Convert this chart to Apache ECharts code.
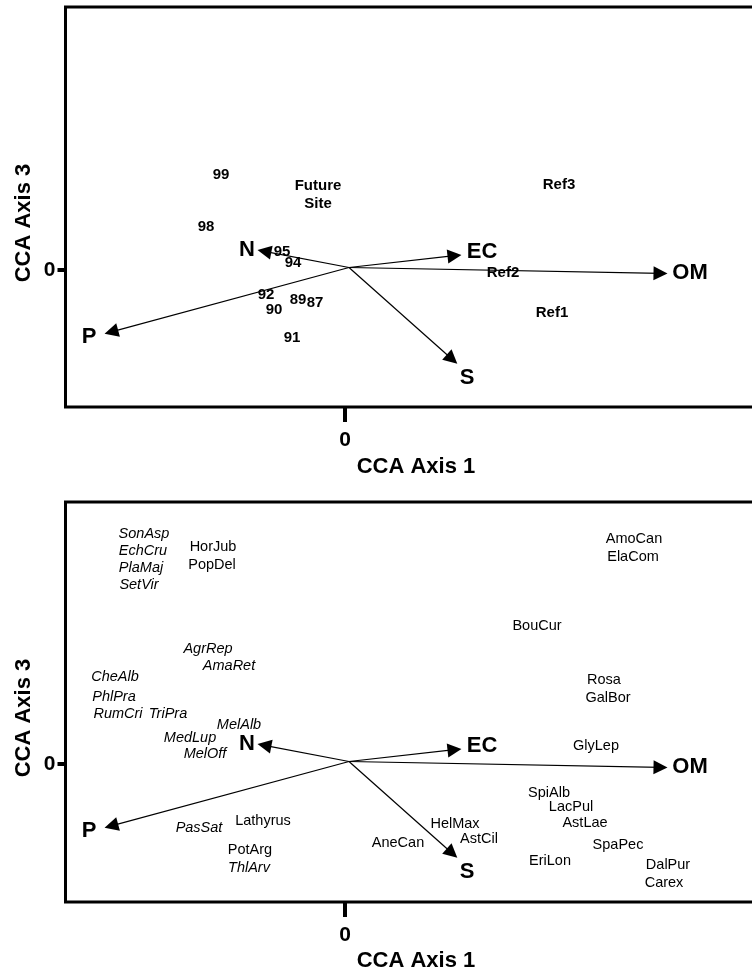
<!DOCTYPE html>
<html><head><meta charset="utf-8">
<script src="https://cdn.jsdelivr.net/npm/echarts@6/dist/echarts.min.js"></script>
<style>html,body{margin:0;padding:0;background:#fff}#c{width:752px;height:972px}</style>
</head><body><div id="c"></div>
<script>
// ---- environmental vectors (same in both panels); end = centre of the arrow head ----
const vectorNames = ['N', 'P', 'EC', 'OM', 'S'];
const vectorOrigin = [0.04, 0.025];
const vectorX = [-0.806, -2.337, 1.095, 3.155, 1.071];
const vectorY = [0.187, -0.618, 0.143, -0.034, -0.892];
const vectorLabelX = [-0.98, -2.56, 1.37, 3.45, 1.22];
const vectorLabelY = [0.205, -0.665, 0.18, -0.025, -1.075];

// ---- sites (top panel) ----
const siteNames = ['99', 'Future\nSite', '98', '95', '94', '92', '90', '89', '87', '91', 'Ref3', 'Ref2', 'Ref1'];
const siteX = [-1.24, -0.27, -1.39, -0.63, -0.52, -0.79, -0.71, -0.47, -0.30, -0.53, 2.14, 1.58, 2.07];
const siteY = [0.95, 0.75, 0.43, 0.18, 0.07, -0.25, -0.40, -0.30, -0.33, -0.68, 0.85, -0.03, -0.43];

// ---- species (bottom panel) ----
const speciesNames = ['SonAsp', 'EchCru', 'PlaMaj', 'SetVir', 'HorJub', 'PopDel', 'AgrRep', 'AmaRet', 'CheAlb', 'PhlPra',
  'RumCri', 'TriPra', 'MelAlb', 'MedLup', 'MelOff', 'PasSat', 'Lathyrus', 'PotArg', 'ThlArv',
  'AmoCan', 'ElaCom', 'BouCur', 'Rosa', 'GalBor', 'GlyLep', 'SpiAlb', 'LacPul', 'AstLae', 'HelMax', 'AstCil',
  'AneCan', 'SpaPec', 'EriLon', 'DalPur', 'Carex'];
const speciesX = [-2.01, -2.02, -2.04, -2.06, -1.32, -1.33, -1.37, -1.16, -2.30, -2.31,
  -2.27, -1.77, -1.06, -1.55, -1.40, -1.46, -0.82, -0.95, -0.96,
  2.89, 2.88, 1.92, 2.59, 2.63, 2.51, 2.04, 2.26, 2.40, 1.10, 1.34,
  0.53, 2.73, 2.05, 3.23, 3.19];
const speciesY = [2.30, 2.13, 1.96, 1.79, 2.17, 1.99, 1.15, 0.98, 0.87, 0.67,
  0.50, 0.50, 0.39, 0.26, 0.10, -0.64, -0.57, -0.86, -1.04,
  2.25, 2.07, 1.38, 0.84, 0.66, 0.18, -0.29, -0.43, -0.59, -0.60, -0.75,
  -0.79, -0.81, -0.97, -1.01, -1.19];
const speciesItalic = [1, 1, 1, 1, 0, 0, 1, 1, 1, 1,
  1, 1, 1, 1, 1, 1, 0, 0, 1,
  0, 0, 0, 0, 0, 0, 0, 0, 0, 0, 0,
  0, 0, 0, 0, 0];

// ---- axes ----
const xTicks = [0];
const yTicks = [0];
const xRange = [-2.795, 4.205];
const yRangeTop = [-1.37, 2.63];
const yRangeBottom = [-1.38, 2.62];
const xTitle = 'CCA Axis 1';
const yTitle = 'CCA Axis 3';

const FONT = '"Liberation Sans", Arial, Helvetica, sans-serif';

function xAxisCfg(gridIndex) {
  return {
    type: 'value', gridIndex, min: xRange[0], max: xRange[1],
    axisLine: { show: false, onZero: false },
    splitLine: { show: false },
    axisTick: { show: true, customValues: xTicks, length: 15, lineStyle: { color: '#000', width: 4 } },
    axisLabel: { show: true, customValues: xTicks, margin: 23, color: '#000', fontSize: 21, fontWeight: 'bold', fontFamily: FONT }
  };
}
function yAxisCfg(gridIndex, r) {
  return {
    type: 'value', gridIndex, min: r[0], max: r[1],
    axisLine: { show: false, onZero: false },
    splitLine: { show: false },
    axisTick: { show: true, customValues: yTicks, length: 8, lineStyle: { color: '#000', width: 4 } },
    axisLabel: { show: true, customValues: yTicks, margin: 10, color: '#000', fontSize: 21, fontWeight: 'bold', fontFamily: FONT }
  };
}

const labelBase = { show: true, position: 'inside', formatter: p => p.data.name, color: '#000', textBorderWidth: 0, opacity: 1, fontFamily: FONT };

function vectorSeries(idx) {
  const arrows = vectorNames.map((n, i) => ({ coords: [vectorOrigin, [vectorX[i], vectorY[i]]] }));
  return [{
    type: 'lines', coordinateSystem: 'cartesian2d', xAxisIndex: idx, yAxisIndex: idx,
    symbol: ['none', 'triangle'], symbolSize: [11, 14],
    lineStyle: { color: '#000', width: 1.2, opacity: 1 },
    data: arrows, silent: true, z: 3
  }, {
    type: 'scatter', xAxisIndex: idx, yAxisIndex: idx, symbolSize: 1,
    itemStyle: { color: 'rgba(0,0,0,0)' },
    label: Object.assign({}, labelBase, { fontSize: 22, fontWeight: 'bold' }),
    data: vectorNames.map((n, i) => ({ name: n, value: [vectorLabelX[i], vectorLabelY[i]] })),
    silent: true, z: 4
  }];
}

const series = [];
series.push(...vectorSeries(0));
series.push({
  type: 'scatter', xAxisIndex: 0, yAxisIndex: 0, symbolSize: 1,
  itemStyle: { color: 'rgba(0,0,0,0)' },
  label: Object.assign({}, labelBase, { fontSize: 15, fontWeight: 'bold', lineHeight: 18 }),
  data: siteNames.map((n, i) => ({ name: n, value: [siteX[i], siteY[i]] })),
  silent: true, z: 5
});
series.push(...vectorSeries(1));
series.push({
  type: 'scatter', xAxisIndex: 1, yAxisIndex: 1, symbolSize: 1,
  itemStyle: { color: 'rgba(0,0,0,0)' },
  label: Object.assign({}, labelBase, { fontSize: 14.5 }),
  data: speciesNames.map((n, i) => ({
    name: n, value: [speciesX[i], speciesY[i]],
    label: { fontStyle: speciesItalic[i] ? 'italic' : 'normal' }
  })),
  silent: true, z: 5
});

function titleText(text, x, y, rot) {
  return {
    type: 'text', x, y, rotation: rot || 0,
    style: { text, fill: '#000', fontSize: 22, fontWeight: 'bold', fontFamily: FONT, align: 'center', verticalAlign: 'middle' }
  };
}

const chart = echarts.init(document.getElementById('c'), null, { renderer: 'canvas' });
chart.setOption({
  animation: false,
  backgroundColor: '#fff',
  grid: [
    { left: 65.5, top: 7, width: 700, height: 400, outerBoundsMode: 'none', containLabel: false, show: true, borderColor: '#000', borderWidth: 3, backgroundColor: 'transparent' },
    { left: 65.5, top: 502, width: 700, height: 400, outerBoundsMode: 'none', containLabel: false, show: true, borderColor: '#000', borderWidth: 3, backgroundColor: 'transparent' }
  ],
  xAxis: [xAxisCfg(0), xAxisCfg(1)],
  yAxis: [yAxisCfg(0, yRangeTop), yAxisCfg(1, yRangeBottom)],
  graphic: [
    titleText(xTitle, 416, 467),
    titleText(xTitle, 416, 961),
    titleText(yTitle, 24, 223, Math.PI / 2),
    titleText(yTitle, 24, 718, Math.PI / 2)
  ],
  series
});
</script></body></html>
